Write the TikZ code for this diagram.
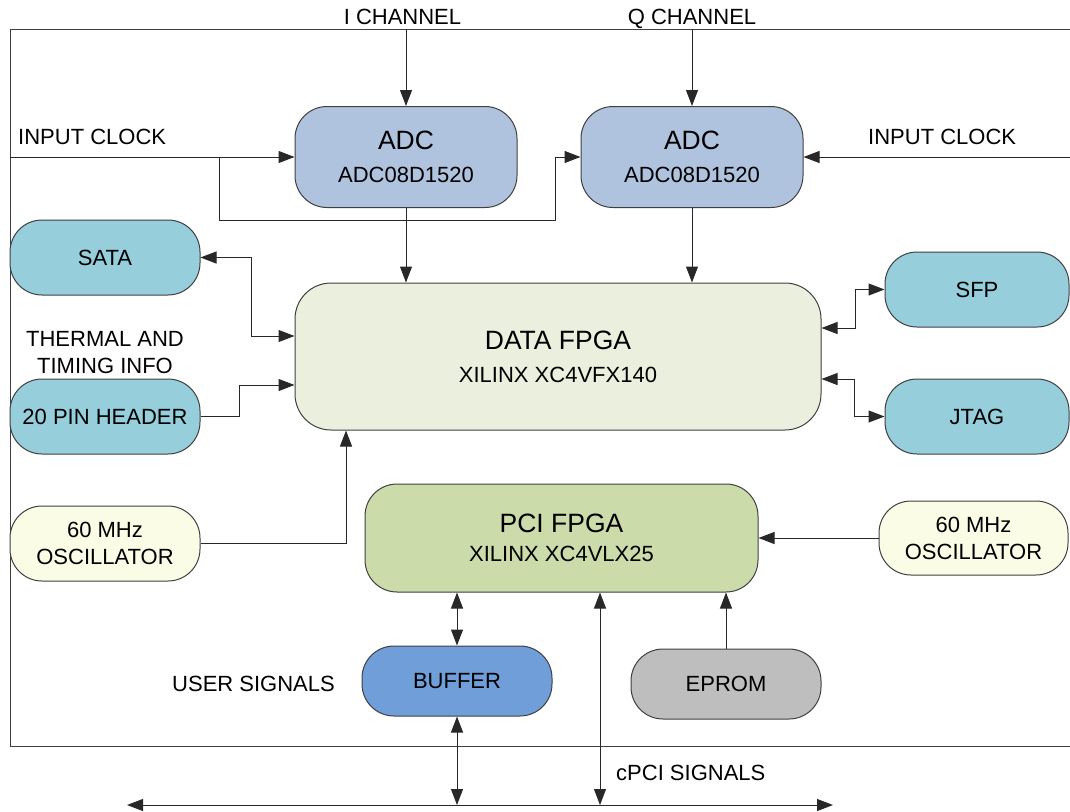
\documentclass[tikz,border=0pt]{standalone}
\usepackage{fontspec}
\setmainfont{Liberation Sans}
\usepackage{xcolor}
\usetikzlibrary{arrows.meta}

\definecolor{adcfill}{RGB}{176,195,222}
\definecolor{datafill}{RGB}{234,239,222}
\definecolor{portfill}{RGB}{150,206,220}
\definecolor{oscfill}{RGB}{251,252,230}
\definecolor{pcifill}{RGB}{203,219,170}
\definecolor{buffill}{RGB}{111,158,216}
\definecolor{epromfill}{RGB}{190,190,190}
\definecolor{edge}{RGB}{64,64,64}
\definecolor{wire}{RGB}{40,40,40}

\newcommand{\bigtxt}{\fontsize{26.5}{30}\selectfont}

\begin{document}
\begin{tikzpicture}[x=1pt,y=-1pt,
    font=\fontsize{22}{27}\selectfont,
    box/.style={draw=edge, line width=1pt, rounded corners=32pt, inner sep=0pt,
        align=center, minimum width=190pt, minimum height=75pt},
    lbl/.style={inner sep=0pt, align=center},
    wired/.style={draw=wire, line width=1pt},
    arr/.style={wired, -{Triangle[length=16pt,width=12pt]}},
    dbl/.style={wired, {Triangle[length=16pt,width=12pt]}-{Triangle[length=16pt,width=12pt]}}]
    \useasboundingbox (0,0) rectangle (1070,811);
    \clip (0,0) rectangle (1070,811);
    \node[draw=edge, line width=1pt, anchor=north west, minimum width=1100pt,
        minimum height=717pt, inner sep=0pt] (board) at (10,29) {};
    % converters and FPGAs
    \node[box, fill=adcfill, minimum width=222pt, minimum height=101pt] (adcI) at (406,157)
        {{\bigtxt ADC}\\[6pt]ADC08D1520};
    \node[box, fill=adcfill, minimum width=222pt, minimum height=101pt] (adcQ) at (692,157)
        {{\bigtxt ADC}\\[6pt]ADC08D1520};
    \node[box, fill=datafill, rounded corners=36pt, minimum width=526pt, minimum height=147pt]
        (data) at (558,356.5) {{\bigtxt DATA FPGA}\\[6pt]XILINX XC4VFX140};
    \node[box, fill=pcifill, minimum width=393pt, minimum height=108pt] (pci) at (561.5,538)
        {{\bigtxt PCI FPGA}\\[2pt]XILINX XC4VLX25};
    % peripherals
    \node[box, fill=portfill] (sata) at (105,257.5) {SATA};
    \node[box, fill=portfill] (header) at (105,416.5) {20 PIN HEADER};
    \node[box, fill=oscfill] (oscL) at (105,543.5) {60 MHz\\OSCILLATOR};
    \node[box, fill=portfill, minimum width=184pt] (sfp) at (977,289.5) {SFP};
    \node[box, fill=portfill, minimum width=184pt] (jtag) at (977,416.5) {JTAG};
    \node[box, fill=oscfill, minimum width=189pt, minimum height=74pt] (oscR) at (973.5,538)
        {60 MHz\\OSCILLATOR};
    \node[box, fill=buffill, minimum height=70pt] (buffer) at (457,681) {BUFFER};
    \node[box, fill=epromfill, minimum height=70pt] (eprom) at (726,684) {EPROM};
    % labels
    \node[lbl, anchor=base] (ichanl) at (402.5,24) {I CHANNEL};
    \node[lbl, anchor=base] (qchanl) at (692,24) {Q CHANNEL};
    \node[lbl, anchor=base west] (clkl) at (18,144) {INPUT CLOCK};
    \node[lbl, anchor=base west] (clkr) at (868,144) {INPUT CLOCK};
    \node[lbl] (therm) at (105,353) {THERMAL AND\\TIMING INFO};
    \node[lbl, anchor=base] (userl) at (253.5,691) {USER SIGNALS};
    \node[lbl, anchor=base west] (cpcil) at (616,780) {cPCI SIGNALS};
    \coordinate (split) at (219,157);
    \coordinate (jog) at (555,220);
    \coordinate (busL) at (127,805);
    \coordinate (busR) at (833,805);
    % connectors
    \draw[arr] (adcI.north |- board.north) -- (adcI.north);
    \draw[arr] (adcQ.north |- board.north) -- (adcQ.north);
    \draw[arr] (board.west |- adcI.west) -- (adcI.west);
    \draw[arr] (split) |- (jog) |- (adcQ.west);
    \draw[arr] (board.east |- adcQ.east) -- (adcQ.east);
    \draw[arr] (adcI.south) -- (adcI.south |- data.north);
    \draw[arr] (adcQ.south) -- (adcQ.south |- data.north);
    \draw[dbl] (sata.east) -| (251,336) -- (data.west |- 0,336);
    \draw[arr] (header.east) -| (239,385) -- (data.west |- 0,385);
    \draw[arr] (oscL.east) -| (data.south -| 346,0);
    \draw[dbl] (data.east |- 0,328) -- (855,328) |- (sfp.west);
    \draw[dbl] (data.east |- 0,379) -- (854,379) |- (jtag.west);
    \draw[arr] (oscR.west) -- (pci.east |- oscR.west);
    \draw[dbl] (pci.south -| buffer.north) -- (buffer.north);
    \draw[dbl] (buffer.south) -- (buffer.south |- busL);
    \draw[dbl] (busL) -- (busR);
    \draw[dbl] (pci.south -| 600,0) -- (busL -| 600,0);
    \draw[arr] (eprom.north) -- (eprom.north |- pci.south);
\end{tikzpicture}
\end{document}
